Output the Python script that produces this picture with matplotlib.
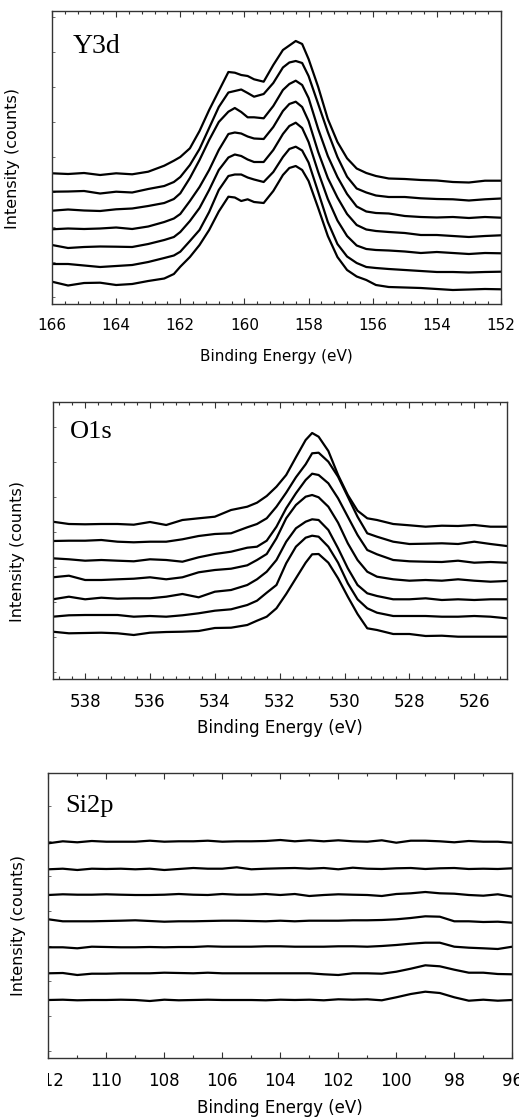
import numpy as np
import matplotlib
matplotlib.use("Agg")
import matplotlib.pyplot as plt
from matplotlib.ticker import MultipleLocator, FixedLocator
from matplotlib.transforms import Bbox, TransformedBbox

# ---------------- Y3d ----------------
y3d_be = [166, 165.5, 165, 164.5, 164, 163.5, 163, 162.5, 162.2, 162.0, 161.7, 161.4,
          161.1, 160.8, 160.5, 160.3, 160.1, 159.9, 159.7, 159.4, 159.1, 158.8, 158.6,
          158.4, 158.2, 158.0, 157.7, 157.4, 157.1, 156.8, 156.5, 156.2, 155.9, 155.5,
          155.0, 154.5, 154.0, 153.5, 153.0, 152.5, 152.0]
y3d_1 = [130.7, 130, 131, 129, 130.7, 129.7, 132.3, 138.3, 143.3, 147, 155.7, 173, 194, 213,
         232, 231.3, 229, 228, 224.7, 222.3, 239, 254, 258.5, 263, 260, 245, 217, 185, 162,
         145.7, 135.5, 131, 128, 125.5, 125, 124, 123.5, 122, 121.5, 123.3, 123.3]
y3d_2 = [112.3, 112.5, 113, 110.5, 112.3, 111.5, 115, 118, 122, 127, 139, 155, 176, 197,
         211.5, 213, 214.5, 211, 207.3, 210, 221, 236.5, 241.5, 243, 241, 228, 200, 172, 147,
         127.3, 115.5, 111.5, 108.5, 107, 107, 105.7, 105, 104.7, 103.5, 104.7, 105.5]
y3d_3 = [93.3, 94.5, 93.5, 93, 94.7, 95.5, 98, 101, 105, 110.7, 126, 144, 164, 182, 192.3,
         196, 192, 186.7, 186.7, 185.7, 198, 214, 220, 223.3, 219, 206, 175, 148, 127, 110,
         97.5, 92.5, 91, 90.5, 88, 87, 86.5, 87, 86, 87, 86.3]
y3d_4 = [74.7, 75.5, 75, 75.5, 76.5, 75, 77.5, 82, 85.5, 90, 103, 117, 134, 154, 170, 171.5,
         170.5, 167.5, 165.5, 165, 177, 193, 200, 202.3, 197, 183, 152, 126, 106.5, 90, 79,
         74.5, 73, 72, 71, 69, 69, 68, 67, 68, 68.7]
y3d_5 = [59, 56, 57, 57.5, 57.3, 57, 60, 64, 67, 72, 83, 96, 114, 134, 146.5, 149.5, 148,
         144.5, 142, 142, 154, 170, 178, 181.3, 176, 162, 132, 105, 83.5, 68, 58.5, 55, 54,
         53.5, 52.5, 51, 52, 51, 50, 51, 50.7]
y3d_6 = [40, 40, 38.5, 37, 38, 39, 42, 46, 48.5, 52.3, 63, 74, 92, 114, 128, 129.5, 129.5,
         126.5, 124.5, 122, 132, 147, 155, 157.3, 153.5, 141.5, 112, 82, 60, 47.5, 41, 37, 36,
         35, 34, 33, 32, 32, 31.5, 32, 32.3]
y3d_7 = [22.3, 18.5, 21, 21.3, 19, 20, 23, 25.5, 30, 37.3, 47, 59, 74, 92.5, 107.3, 106.5,
         103, 104.7, 102, 101, 113, 129, 136, 138, 134, 123, 96, 68, 47, 34, 27.5, 24, 19, 17,
         16.5, 16, 15, 14, 14.5, 15, 14.7]

# ---------------- O1s ----------------
o1s_be = [539, 538.5, 538, 537.5, 537, 536.5, 536, 535.5, 535, 534.5, 534, 533.5, 533,
          532.7, 532.4, 532.1, 531.8, 531.5, 531.2, 531.0, 530.8, 530.5, 530.2, 529.9,
          529.6, 529.3, 529, 528.5, 528, 527.5, 527, 526.5, 526, 525.5, 525]
o1s_1 = [157.3, 155, 154.7, 155, 155, 154.3, 157, 154, 159, 160.7, 162.3, 169, 172.3, 176.3,
         183, 192.3, 204, 221.7, 239, 246, 242.3, 228, 204, 184, 168.3, 160.7, 159, 155,
         153.7, 152.3, 153.3, 153, 154, 152.3, 152.3]
o1s_2 = [138, 138.3, 138.3, 139, 137.3, 136.7, 137.3, 137.3, 139.7, 143, 145, 145.7, 151.7,
         155, 160.7, 172.3, 186.3, 201.7, 214.7, 225.7, 226.3, 217.3, 202.3, 182.3, 162.3,
         145.7, 142.3, 137.3, 135, 135.3, 135.7, 135, 137.3, 135, 133]
o1s_3 = [120.7, 119.7, 118.3, 119, 118.3, 117.7, 119.7, 119, 117.3, 121.7, 125, 127.3, 131.3,
         132.3, 138.3, 152.3, 170.7, 185.7, 199, 205.3, 204, 195.7, 180.7, 162.3, 144, 129,
         124.7, 119, 117.7, 117.3, 117, 118.3, 116.3, 117, 116.3]
o1s_4 = [101.7, 103.3, 99, 99, 99.7, 100.3, 101.7, 99.7, 101.7, 106.7, 109, 110.3, 113.7, 119,
         125, 140.7, 160.7, 174, 182.3, 184, 181.7, 172.3, 156.3, 135.7, 119, 107.3, 102.3,
         99.7, 98.3, 99, 98.3, 99.7, 98.3, 97.3, 98]
o1s_5 = [79.7, 82.3, 79.7, 81.3, 80.3, 80.7, 80.7, 82.3, 85, 81.7, 87.3, 89, 94, 99.7, 107.3,
         119, 137.3, 150.7, 157.3, 159.7, 159, 149, 130.7, 110.7, 94, 85.7, 83, 79.7, 79.7,
         80.7, 79, 79.7, 79, 79.7, 79.7]
o1s_6 = [62.3, 63.7, 64, 64, 64, 62.3, 63, 62.3, 63.7, 65.7, 68.3, 69.7, 74, 78.3, 86.3, 94,
         115.7, 132.3, 141.3, 143.3, 142.3, 132.3, 116.3, 95.7, 79.7, 70.7, 66.3, 63, 63, 63,
         62.3, 62.3, 63, 62.3, 60.7]
o1s_7 = [47.3, 45.7, 46, 46.3, 45.7, 44, 46.3, 47, 47.3, 48, 51, 51.3, 54, 58.3, 62.3, 70.7,
         85, 100.7, 116.3, 124.7, 125, 116.3, 100.7, 82.3, 65, 50.7, 49, 45, 45, 43, 43.3,
         42.3, 42.3, 42.3, 42.3]

# ---------------- Si2p ----------------
si2p_be = [112, 111.5, 111, 110.5, 110, 109.5, 109, 108.5, 108, 107.5, 107, 106.5, 106,
           105.5, 105, 104.5, 104, 103.5, 103, 102.5, 102, 101.5, 101, 100.5, 100, 99.5, 99,
           98.5, 98, 97.5, 97, 96.5, 96]
si2p_1 = [214.4, 216.4, 215.4, 216.7, 216, 216, 216, 217, 216, 216.4, 216.4, 217, 216, 216.4,
          216.4, 216.7, 217.7, 216.4, 217.4, 216.4, 217.4, 216.4, 216, 217.4, 215, 217, 217,
          216.4, 215.4, 216.7, 216, 216, 215]
si2p_2 = [188.4, 189, 187.7, 189, 188.7, 189, 188.4, 189, 187.7, 188.7, 189.7, 189, 189, 190.4,
          188.4, 189, 189.4, 189.7, 189, 189.7, 188.4, 190, 189, 188.7, 189.4, 189.7, 188.7,
          189.4, 189.7, 188.7, 189, 188.7, 189.4]
si2p_3 = [162.7, 163.4, 163, 163, 163.4, 163, 162.7, 162.7, 163, 163.7, 163, 162.7, 163.7, 163,
          163, 163.7, 162.7, 163.7, 161.7, 162.7, 163.4, 163, 162.7, 161.7, 163.7, 164.4, 165.7,
          164.4, 164, 162.7, 162, 163.4, 161]
si2p_4 = [138.4, 136.4, 136.4, 136.4, 136.7, 137, 137.4, 136.7, 136, 136.4, 136.4, 136.7, 137,
          137, 136.7, 136.4, 137, 136.4, 137, 137, 137, 137.4, 137.4, 137.7, 138.4, 139.7, 141.4,
          141, 136.4, 136.4, 135.7, 136, 135]
si2p_5 = [110.4, 110.4, 109.4, 111, 110.7, 110.4, 110.4, 110.7, 110.4, 110.7, 110.7, 111.4, 111,
          111, 111, 111.4, 111.4, 111, 111, 111, 111.4, 111.4, 111, 111.7, 112.7, 114, 115, 115,
          111, 110, 109.4, 108.7, 111]
si2p_6 = [84.4, 84.7, 82.7, 84, 84, 84.4, 84.4, 84.4, 85, 84.7, 84.4, 85, 84.4, 84.4, 84.4,
          84.4, 84.4, 84.4, 84.4, 83.4, 82.7, 84.4, 84.4, 84, 86, 89, 92.4, 91.4, 88, 85, 85,
          83.7, 83.4]
si2p_7 = [57.7, 58, 57.4, 57.7, 57.7, 58, 57.7, 56.7, 58, 57.4, 57.7, 58, 57.7, 57.7, 57.7,
          57.4, 58, 57.7, 58, 57.4, 58.4, 58, 58.4, 57.4, 60.4, 63.7, 66, 64.7, 60.4, 57, 58, 57,
          57.7]

W, H = 519, 1117
fig = plt.figure(figsize=(W / 100, H / 100), dpi=100)
plt.rcParams['font.family'] = ['DejaVu Sans']

def make_axes(l, r, t, b):
    return fig.add_axes([l / W, 1 - b / H, (r - l) / W, (b - t) / H])

panels = [
    dict(box=(52, 501, 11, 304), be=y3d_be, curves=[y3d_1, y3d_2, y3d_3, y3d_4, y3d_5, y3d_6, y3d_7],
         xlim=(166, 152), major=2, minor=0.4, label="Y3d", lsize=20, lpos=(0.047, 0.857),
         fs=11, ylab=(-0.071, 0.495), xlab_y=356, ymax=293),
    dict(box=(52.7, 506.7, 401.7, 679), be=o1s_be, curves=[o1s_1, o1s_2, o1s_3, o1s_4, o1s_5, o1s_6, o1s_7],
         xlim=(539, 525), major=2, minor=0.4, label="O1s", lsize=19, lpos=(0.038, 0.868),
         fs=12, ylab=(-0.060, 0.459), xlab_y=728, ymax=277.3),
    dict(box=(48.3, 512.3, 773.3, 1057.7), be=si2p_be, curves=[si2p_1, si2p_2, si2p_3, si2p_4, si2p_5, si2p_6, si2p_7],
         xlim=(112, 96), major=2, minor=1, label="Si2p", lsize=19, lpos=(0.036, 0.865),
         fs=12, ylab=(-0.049, 0.464), xlab_y=1108, ymax=284.4),
]

axes = []
for p in panels:
    l, r, t, b = p['box']
    ax = make_axes(l, r, t, b)
    for c in p['curves']:
        ax.plot(p['be'], c, color='black', lw=1.6, solid_joinstyle='round')
    ax.set_xlim(*p['xlim'])
    ax.set_ylim(0, p['ymax'])
    ax.xaxis.set_major_locator(MultipleLocator(p['major']))
    ax.xaxis.set_minor_locator(MultipleLocator(p['minor']))
    ax.yaxis.set_major_locator(FixedLocator(np.arange(7, p['ymax'], 35)))
    ax.tick_params(axis='x', which='both', direction='in', top=True, bottom=True,
                   labelsize=p['fs'], pad=10, color='#333333')
    ax.tick_params(axis='x', which='major', length=4.5, width=0.8)
    ax.tick_params(axis='x', which='minor', length=2.5, width=0.8)
    ax.tick_params(axis='y', which='both', direction='in', left=True, right=False,
                   labelleft=False, length=2.5, width=0.6, color='#555555')
    for s in ax.spines.values():
        s.set_color('#333333')
        s.set_linewidth(1.0)
    ax.text(p['lpos'][0], p['lpos'][1], p['label'], transform=ax.transAxes,
            fontsize=p['lsize'], family=['Liberation Serif', 'DejaVu Serif'],
            ha='left', va='baseline')
    ax.set_ylabel("Intensity (counts)", fontsize=11.5)
    ax.yaxis.set_label_coords(p['ylab'][0], p['ylab'][1])
    fig.text(((l + r) / 2) / W, 1 - p['xlab_y'] / H, "Binding Energy (eV)",
             fontsize=p['fs'], ha='center', va='center')
    axes.append(ax)

# the leftmost tick label of the Si2p panel is partly hidden in the original
ax3 = axes[2]
ticks = ax3.get_xticks()
ax3.set_xticks(ticks)
ax3.set_xticklabels([f"{t:g}" for t in ticks])
ax3.set_xlim(112, 96)
clip = TransformedBbox(Bbox.from_extents(47.5 / W, 0, 1, 1), fig.transFigure)
for lbl in ax3.get_xticklabels():
    if lbl.get_text() == "112":
        lbl.set_clip_box(clip)
        lbl.set_clip_on(True)

fig.savefig("out.png", dpi=100)
